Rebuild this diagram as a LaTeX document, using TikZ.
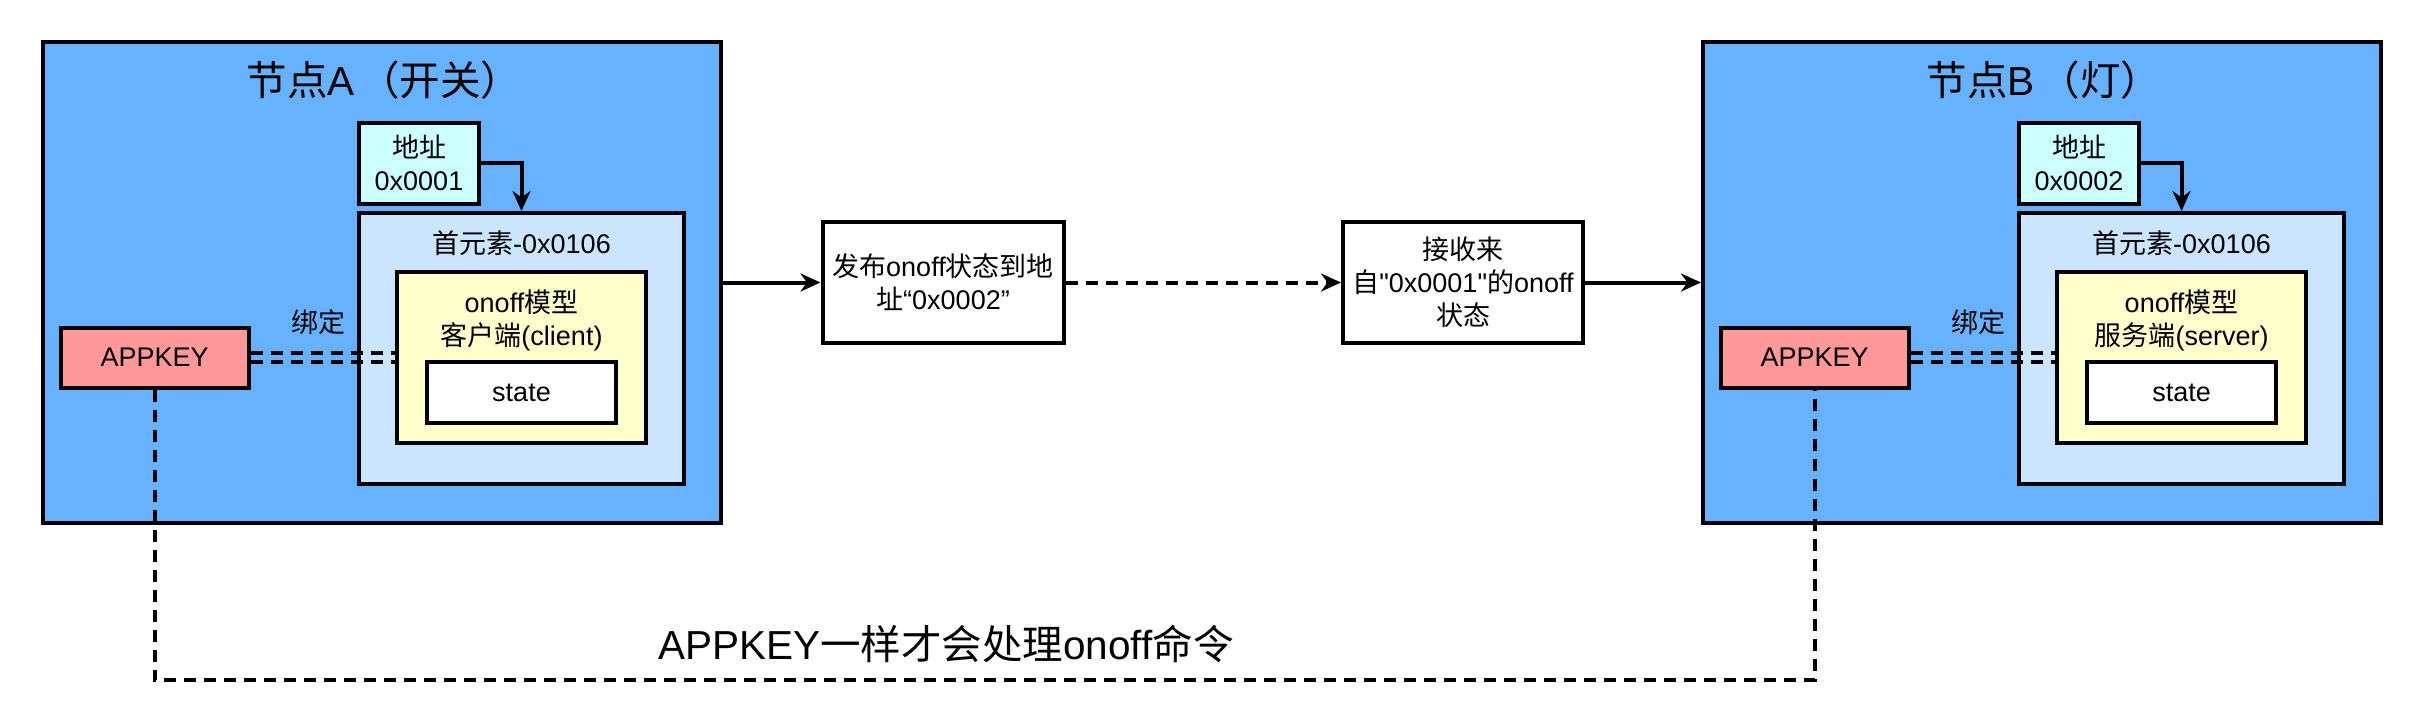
\documentclass[tikz,border=0pt]{standalone}
\usepackage{fontspec}
\setmainfont{Liberation Sans}
\newfontfamily\rawsans{Liberation Sans}
\newfontfamily\cjk[Kerning=Off]{Noto Sans CJK SC}
\newcommand\zhtxt[1]{{\cjk #1}}
\newcommand\sq{{\rawsans"}}
\usetikzlibrary{arrows.meta}

\begin{document}
\begin{tikzpicture}[x=0.5pt, y=-0.5pt, >={Stealth[length=10pt, width=9pt]},
  box/.style={draw=black, line width=2pt, inner sep=0pt},
  small/.style={font=\fontsize{13.5}{16.5}\selectfont, align=center},
  big/.style={font=\fontsize{20.25}{24}\selectfont},
  flow/.style={->, line width=2pt},
  linkline/.style={line width=2pt, dash pattern=on 6pt off 4pt}]
  \definecolor{nodeblue}{RGB}{102,178,255}
  \definecolor{addrcyan}{RGB}{204,255,255}
  \definecolor{elemblue}{RGB}{204,229,255}
  \definecolor{modelyellow}{RGB}{255,255,204}
  \definecolor{keyred}{RGB}{255,153,153}

  \fill[white] (0,0) rectangle (2422,728);
  \useasboundingbox (0,0) rectangle (2422,728);

  % the two mesh nodes, B is A moved right
  \foreach \n/\dx/\ttl/\adr/\role in {A/0/\zhtxt{节点}A\hspace{0.12em}\zhtxt{（开关）}/0x0001/\zhtxt{客户端}(client),B/1660/\zhtxt{节点}B\hspace{0.12em}\zhtxt{（灯）}/0x0002/\zhtxt{服务端}(server)} {
    \node[box, fill=nodeblue, minimum width=339pt, minimum height=240.5pt] (outer\n) at (382+\dx,282.5) {};
    \node[big] (title\n) at (384+\dx,80) {\ttl};
    \node[box, fill=addrcyan, small, minimum width=60pt, minimum height=40.5pt] (addr\n) at (419+\dx,163) {\zhtxt{地址}\\\adr};
    \node[box, fill=elemblue, minimum width=162.5pt, minimum height=135.5pt] (elem\n) at (521.5+\dx,348.5) {};
    \node[small] (elemlbl\n) at (521.5+\dx,243) {\zhtxt{首元素}-0x0106};
    \node[box, fill=modelyellow, minimum width=124.5pt, minimum height=85.5pt] (model\n) at (521.5+\dx,357.75) {};
    \node[small] (modellbl\n) at (521.5+\dx,320) {onoff\zhtxt{模型}\\\role};
    \node[box, fill=white, small, minimum width=94.5pt, minimum height=30.5pt] (state\n) at (521.5+\dx,392.75) {state};
    \node[box, fill=keyred, small, minimum width=94pt, minimum height=30pt] (key\n) at (154.6+\dx,357.5) {APPKEY};
    \node[small] (bind\n) at (318.5+\dx,322.5) {\zhtxt{绑定}};

    \draw[flow] (addr\n.east) -| (elem\n.north);
    \draw[linkline] ([yshift=2.4pt]key\n.east) -- ([yshift=2.4pt]key\n.east -| model\n.west);
    \draw[linkline] ([yshift=-2.4pt]key\n.east) -- ([yshift=-2.4pt]key\n.east -| model\n.west);
  }

  % message path
  \node[box, fill=white, small, minimum width=120.5pt, minimum height=60.5pt] (pub) at (943,282.5)
    {\zhtxt{发布}onoff\zhtxt{状态到地}\\\zhtxt{址}“0x0002”};
  \node[box, fill=white, small, minimum width=120pt, minimum height=60.5pt] (recv) at (1463,282.5)
    {\zhtxt{接收来}\\\zhtxt{自}\sq 0x0001\sq\zhtxt{的}onoff\\\zhtxt{状态}};

  \draw[flow] (outerA.east) -- (pub.west);
  \draw[flow, linkline] (pub.east) -- (recv.west);
  \draw[flow] (recv.east) -- (outerB.west);

  % same appkey
  \coordinate (low) at (0,680);
  \draw[linkline] (keyA.south) -- (keyA.south |- low) -- (keyB.south |- low) -- (keyB.south);
  \node[big] (note) at (946,644) {APPKEY\zhtxt{一样才会处理}onoff\zhtxt{命令}};

\end{tikzpicture}
\end{document}
